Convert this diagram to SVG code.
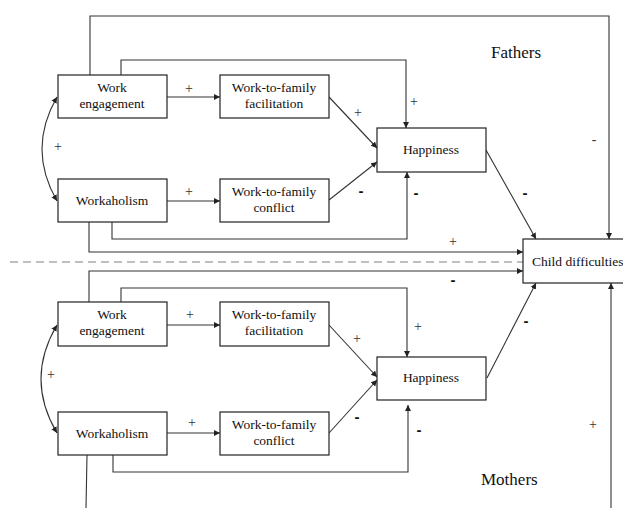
<svg xmlns="http://www.w3.org/2000/svg" width="623" height="508" viewBox="0 0 623 508">
<style>
.box{fill:#fff;stroke:#222;stroke-width:1.2}
.t{font-family:"Liberation Serif","Times New Roman",serif;font-size:13.5px;fill:#111;text-anchor:middle}
.c{fill:none;stroke:#333;stroke-width:1.1}
.p{font-family:"Liberation Serif",serif;font-size:14px;fill:#333;text-anchor:middle}
.m{font-family:"Liberation Sans",sans-serif;font-size:15px;font-weight:bold;fill:#111;text-anchor:middle}
.ttl{font-family:"Liberation Serif","Times New Roman",serif;font-size:17px;fill:#111}
</style>
<defs>
<marker id="a" markerUnits="userSpaceOnUse" markerWidth="7" markerHeight="7" refX="6" refY="3" orient="auto-start-reverse">
<path d="M0,0 L6,3 L0,6 z" fill="#222"/>
</marker>
</defs>
<rect width="623" height="508" fill="#fff"/>
<line x1="10" y1="262" x2="523" y2="262" stroke="#aaa" stroke-width="1.6" stroke-dasharray="8 5"/>
<g id="connectors">
<polyline class="c" points="90,75 90,16 609,16 609,239" marker-end="url(#a)"/>
<polyline class="c" points="121,75 121,60 406,60 406,128" marker-end="url(#a)"/>
<line class="c" x1="167" y1="97" x2="220" y2="97" marker-end="url(#a)"/>
<line class="c" x1="167" y1="201" x2="220" y2="201" marker-end="url(#a)"/>
<line class="c" x1="329" y1="97" x2="377" y2="148" marker-end="url(#a)"/>
<line class="c" x1="329" y1="200" x2="377" y2="162" marker-end="url(#a)"/>
<polyline class="c" points="112,222 112,239 407,239 407,172" marker-end="url(#a)"/>
<polyline class="c" points="89,222 89,252 523,252" marker-end="url(#a)"/>
<line class="c" x1="486" y1="150" x2="536" y2="239" marker-end="url(#a)"/>
<path class="c" d="M57,97 Q27,149 57,201" marker-start="url(#a)" marker-end="url(#a)"/>
<polyline class="c" points="89,302 89,271 523,271" marker-end="url(#a)"/>
<polyline class="c" points="121,302 121,288 407,288 407,357" marker-end="url(#a)"/>
<line class="c" x1="167" y1="325" x2="220" y2="325" marker-end="url(#a)"/>
<line class="c" x1="167" y1="433" x2="220" y2="433" marker-end="url(#a)"/>
<line class="c" x1="329" y1="325" x2="377" y2="377" marker-end="url(#a)"/>
<line class="c" x1="329" y1="433" x2="377" y2="380" marker-end="url(#a)"/>
<polyline class="c" points="113,455 113,472 408,472 408,405" marker-end="url(#a)"/>
<line class="c" x1="87" y1="455" x2="86" y2="508"/>
<line class="c" x1="611" y1="508" x2="611" y2="283" marker-end="url(#a)"/>
<line class="c" x1="487" y1="378" x2="536" y2="283" marker-end="url(#a)"/>
<path class="c" d="M57,325 Q25,379 57,433" marker-start="url(#a)" marker-end="url(#a)"/>
</g>
<g id="labels">
<text class="p" x="189" y="93">+</text>
<text class="p" x="189" y="196">+</text>
<text class="p" x="58" y="151">+</text>
<text class="p" x="358" y="117">+</text>
<text class="p" x="414" y="106">+</text>
<text class="m" x="361" y="196">-</text>
<text class="m" x="416" y="198">-</text>
<text class="m" x="525" y="198">-</text>
<text class="p" x="594" y="144">-</text>
<text class="p" x="453" y="246">+</text>
<text class="m" x="453" y="285">-</text>
<text class="p" x="190" y="319">+</text>
<text class="p" x="51" y="379">+</text>
<text class="p" x="192" y="427">+</text>
<text class="p" x="418" y="331">+</text>
<text class="p" x="357" y="343">+</text>
<text class="m" x="357" y="422">-</text>
<text class="m" x="419" y="435">-</text>
<text class="m" x="526" y="326">-</text>
<text class="p" x="593" y="429">+</text>
<text class="ttl" x="491" y="58">Fathers</text>
<text class="ttl" x="481" y="485">Mothers</text>
</g>
<g id="f-we"><rect class="box" x="58" y="75" width="109" height="43"/><text class="t" x="112" y="92">Work</text><text class="t" x="112" y="108">engagement</text></g>
<g id="f-wff"><rect class="box" x="220" y="75" width="109" height="43"/><text class="t" x="274" y="92">Work-to-family</text><text class="t" x="274" y="108">facilitation</text></g>
<g id="f-wa"><rect class="box" x="58" y="179" width="109" height="43"/><text class="t" x="112" y="205">Workaholism</text></g>
<g id="f-wfc"><rect class="box" x="220" y="179" width="109" height="43"/><text class="t" x="274" y="196">Work-to-family</text><text class="t" x="274" y="212">conflict</text></g>
<g id="f-hap"><rect class="box" x="377" y="128" width="109" height="44"/><text class="t" x="431" y="154">Happiness</text></g>
<g id="child"><rect class="box" x="523" y="239" width="110" height="44"/><text class="t" x="532" y="266" style="text-anchor:start">Child difficulties</text></g>
<g id="m-we"><rect class="box" x="58" y="302" width="109" height="44"/><text class="t" x="112" y="319">Work</text><text class="t" x="112" y="335">engagement</text></g>
<g id="m-wff"><rect class="box" x="220" y="302" width="109" height="44"/><text class="t" x="274" y="319">Work-to-family</text><text class="t" x="274" y="335">facilitation</text></g>
<g id="m-wa"><rect class="box" x="58" y="412" width="109" height="43"/><text class="t" x="112" y="438">Workaholism</text></g>
<g id="m-wfc"><rect class="box" x="220" y="412" width="109" height="43"/><text class="t" x="274" y="429">Work-to-family</text><text class="t" x="274" y="445">conflict</text></g>
<g id="m-hap"><rect class="box" x="377" y="357" width="109" height="43"/><text class="t" x="431" y="382">Happiness</text></g>
</svg>
